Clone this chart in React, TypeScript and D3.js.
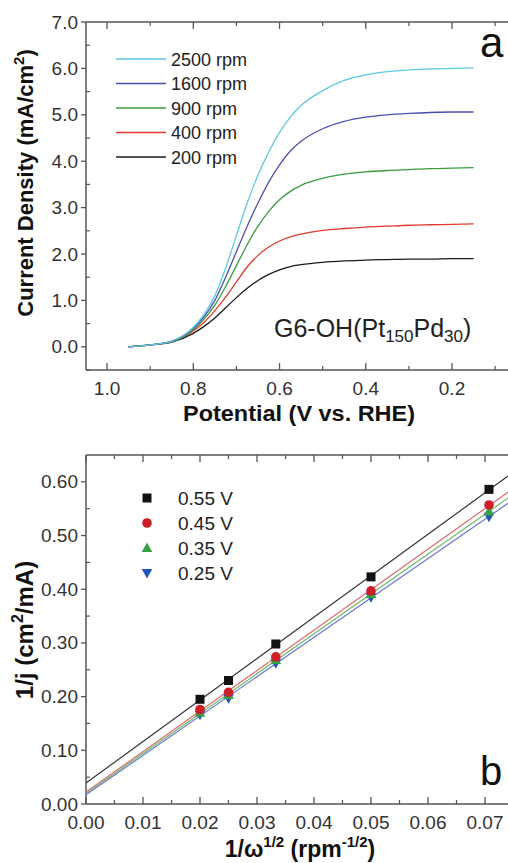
import React from "react";
import * as d3 from "d3";

// ---------- Panel a data ----------
const potentials = [0.95, 0.9, 0.85, 0.8, 0.775, 0.75, 0.725, 0.7, 0.675, 0.65, 0.625, 0.6, 0.575, 0.55, 0.5, 0.45, 0.4, 0.35, 0.3, 0.25, 0.2, 0.15];
const rpm2500 = [0.0, 0.04, 0.12, 0.42, 0.7, 1.1, 1.7, 2.4, 3.1, 3.7, 4.2, 4.62, 4.95, 5.2, 5.52, 5.74, 5.86, 5.93, 5.97, 5.99, 6.0, 6.01];
const rpm1600 = [0.0, 0.04, 0.12, 0.4, 0.65, 1.0, 1.5, 2.05, 2.6, 3.1, 3.55, 3.92, 4.22, 4.43, 4.7, 4.86, 4.95, 5.0, 5.03, 5.05, 5.06, 5.06];
const rpm900 = [0.0, 0.04, 0.11, 0.37, 0.6, 0.9, 1.3, 1.75, 2.2, 2.6, 2.92, 3.17, 3.35, 3.48, 3.63, 3.72, 3.77, 3.8, 3.82, 3.84, 3.85, 3.86];
const rpm400 = [0.0, 0.04, 0.11, 0.34, 0.53, 0.78, 1.07, 1.4, 1.72, 1.97, 2.15, 2.28, 2.37, 2.43, 2.51, 2.55, 2.58, 2.6, 2.62, 2.63, 2.64, 2.65];
const rpm200 = [0.0, 0.04, 0.1, 0.29, 0.44, 0.62, 0.84, 1.06, 1.26, 1.43, 1.56, 1.66, 1.73, 1.77, 1.82, 1.85, 1.87, 1.88, 1.89, 1.89, 1.9, 1.9];
const rpmLabels = ["2500 rpm", "1600 rpm", "900 rpm", "400 rpm", "200 rpm"];
const rpmColors = ["#5cc8e4", "#4b4fb4", "#3c9c3c", "#e03a30", "#1a1a1a"];
const aYTicks = [0, 1, 2, 3, 4, 5, 6, 7];
const aXTicks = [1.0, 0.8, 0.6, 0.4, 0.2];

// ---------- Panel b data ----------
const invSqrtW = [0.02, 0.025, 0.0333, 0.05, 0.0707];
const v055 = [0.195, 0.23, 0.298, 0.423, 0.586];
const v045 = [0.176, 0.208, 0.274, 0.397, 0.557];
const v035 = [0.17, 0.203, 0.268, 0.391, 0.545];
const v025 = [0.166, 0.197, 0.262, 0.385, 0.535];
const vLabels = ["0.55 V", "0.45 V", "0.35 V", "0.25 V"];
const vMarkColors = ["#111111", "#cc1f2a", "#38a040", "#2253b8"];
const vLineColors = ["#333333", "#e06a6a", "#6cb86c", "#6a78d8"];
const vShapes = ["square", "circle", "triangle", "triangleDown"];
const bYTicks = [0, 0.1, 0.2, 0.3, 0.4, 0.5, 0.6];
const bXTicks = [0, 0.01, 0.02, 0.03, 0.04, 0.05, 0.06, 0.07];

const FONT = "'Liberation Sans', Arial, Helvetica, sans-serif";
const AX = "#555555";

function fit(xs: number[], ys: number[]) {
  const mx = d3.mean(xs)!;
  const my = d3.mean(ys)!;
  let num = 0, den = 0;
  xs.forEach((x, i) => { num += (x - mx) * (ys[i] - my); den += (x - mx) * (x - mx); });
  const m = num / den;
  return { m, b: my - m * mx };
}

function Marker({ shape, x, y, color }: { shape: string; x: number; y: number; color: string }) {
  const s = 4.5;
  if (shape === "square") return <rect x={x - s} y={y - s} width={2 * s} height={2 * s} fill={color} />;
  if (shape === "circle") return <circle cx={x} cy={y} r={s + 0.3} fill={color} />;
  if (shape === "triangle")
    return <path d={`M${x},${y - s - 1} L${x + s + 0.8},${y + s - 0.5} L${x - s - 0.8},${y + s - 0.5} Z`} fill={color} />;
  return <path d={`M${x},${y + s + 1} L${x + s + 0.8},${y - s + 0.5} L${x - s - 0.8},${y - s + 0.5} Z`} fill={color} />;
}

export default function App() {
  const ax = d3.scaleLinear().domain([1.05, 0.05]).range([85.5, 516.7]);
  const ay = d3.scaleLinear().domain([-0.5, 7.0]).range([370, 22]);
  const aSeries = [rpm2500, rpm1600, rpm900, rpm400, rpm200];
  const line = d3
    .line<number>()
    .x((_, i) => ax(potentials[i]))
    .y((d) => ay(d))
    .curve(d3.curveMonotoneX);
  const aMinorY = d3.range(-0.5, 7.01, 0.5).filter((v) => Math.abs(v - Math.round(v)) > 0.01);
  const aMinorX = [0.9, 0.7, 0.5, 0.3, 0.1];

  const bx = d3.scaleLinear().domain([0, 0.075]).range([86, 513.5]);
  const by = d3.scaleLinear().domain([0, 0.65]).range([804, 455]);
  const bSeries = [v055, v045, v035, v025];
  const bMinorY = [0.05, 0.15, 0.25, 0.35, 0.45, 0.55];
  const bMinorX = [0.005, 0.015, 0.025, 0.035, 0.045, 0.055, 0.065];

  return (
    <svg
      width={508}
      height={863}
      style={{ position: "absolute", left: 0, top: 0, background: "#fff" }}
      fontFamily={FONT}
    >
      <defs>
        <clipPath id="clipA">
          <rect x={86} y={22} width={430} height={348} />
        </clipPath>
        <clipPath id="clipB">
          <rect x={86} y={455} width={430} height={349} />
        </clipPath>
      </defs>

      {/* ===== Panel a ===== */}
      <g>
        <line x1={86} x2={520} y1={22} y2={22} stroke={AX} strokeWidth={1.5} />
        <line x1={86} x2={520} y1={370} y2={370} stroke={AX} strokeWidth={1.5} />
        <line x1={86} x2={86} y1={22} y2={370} stroke={AX} strokeWidth={1.5} />
        {aYTicks.map((t) => (
          <g key={"ay" + t}>
            <line x1={81} x2={86} y1={ay(t)} y2={ay(t)} stroke={AX} strokeWidth={1.3} />
            <text x={78} y={ay(t) + 6.5} fontSize={19} textAnchor="end" fill="#333">
              {t.toFixed(1)}
            </text>
          </g>
        ))}
        {aMinorY.map((t) => (
          <line key={"amy" + t} x1={86} x2={90} y1={ay(t)} y2={ay(t)} stroke={AX} strokeWidth={1.2} />
        ))}
        {aXTicks.map((t) => (
          <g key={"ax" + t}>
            <line x1={ax(t)} x2={ax(t)} y1={370} y2={363} stroke={AX} strokeWidth={1.3} />
            <line x1={ax(t)} x2={ax(t)} y1={22} y2={29} stroke={AX} strokeWidth={1.3} />
            <text x={ax(t)} y={395} fontSize={19} textAnchor="middle" fill="#333">
              {t.toFixed(1)}
            </text>
          </g>
        ))}
        {aMinorX.map((t) => (
          <g key={"amx" + t}>
            <line x1={ax(t)} x2={ax(t)} y1={370} y2={366} stroke={AX} strokeWidth={1.2} />
            <line x1={ax(t)} x2={ax(t)} y1={22} y2={26} stroke={AX} strokeWidth={1.2} />
          </g>
        ))}
        <g clipPath="url(#clipA)">
          {aSeries
            .map((s, i) => ({ s, i }))
            .reverse()
            .map(({ s, i }) => (
              <path key={"c" + i} d={line(s) || ""} fill="none" stroke={rpmColors[i]} strokeWidth={1.3} />
            ))}
        </g>
        {rpmLabels.map((lab, i) => {
          const yy = 59 + i * 24.5;
          return (
            <g key={"la" + i}>
              <line x1={116} x2={166} y1={yy} y2={yy} stroke={rpmColors[i]} strokeWidth={1.3} />
              <text x={171} y={yy + 6.5} fontSize={18} fill="#222">
                {lab}
              </text>
            </g>
          );
        })}
        <text x={274} y={337} fontSize={25} fill="#222">
          G6-OH(Pt
          <tspan fontSize={17} dy={5}>150</tspan>
          <tspan dy={-5}>Pd</tspan>
          <tspan fontSize={17} dy={5}>30</tspan>
          <tspan dy={-5}>)</tspan>
        </text>
        <text x={480} y={57} fontSize={42} fill="#111">a</text>
        <text x={299} y={421} fontSize={22} fontWeight="bold" textAnchor="middle" fill="#111" textLength={232} lengthAdjust="spacingAndGlyphs">
          Potential (V vs. RHE)
        </text>
        <text
          transform="translate(33,183) rotate(-90)"
          fontSize={22}
          fontWeight="bold"
          textAnchor="middle"
          fill="#111"
        >
          Current Density (mA/cm
          <tspan fontSize={15} dy={-9}>2</tspan>
          <tspan dy={9}>)</tspan>
        </text>
      </g>

      {/* ===== Panel b ===== */}
      <g>
        <line x1={86} x2={520} y1={455} y2={455} stroke={AX} strokeWidth={1.5} />
        <line x1={86} x2={520} y1={804} y2={804} stroke={AX} strokeWidth={1.5} />
        <line x1={86} x2={86} y1={455} y2={804} stroke={AX} strokeWidth={1.5} />
        {bYTicks.map((t) => (
          <g key={"by" + t}>
            <line x1={81} x2={86} y1={by(t)} y2={by(t)} stroke={AX} strokeWidth={1.3} />
            <text x={78} y={by(t) + 6.5} fontSize={19} textAnchor="end" fill="#333">
              {t.toFixed(2)}
            </text>
          </g>
        ))}
        {bMinorY.map((t) => (
          <line key={"bmy" + t} x1={86} x2={90} y1={by(t)} y2={by(t)} stroke={AX} strokeWidth={1.2} />
        ))}
        {bXTicks.map((t) => (
          <g key={"bx" + t}>
            <line x1={bx(t)} x2={bx(t)} y1={804} y2={797} stroke={AX} strokeWidth={1.3} />
            <line x1={bx(t)} x2={bx(t)} y1={455} y2={462} stroke={AX} strokeWidth={1.3} />
            <text x={bx(t)} y={829} fontSize={19} textAnchor="middle" fill="#333">
              {t.toFixed(2)}
            </text>
          </g>
        ))}
        {bMinorX.map((t) => (
          <g key={"bmx" + t}>
            <line x1={bx(t)} x2={bx(t)} y1={804} y2={800} stroke={AX} strokeWidth={1.2} />
            <line x1={bx(t)} x2={bx(t)} y1={455} y2={459} stroke={AX} strokeWidth={1.2} />
          </g>
        ))}
        <g clipPath="url(#clipB)">
          {bSeries.map((s, i) => {
            const f = fit(invSqrtW, s);
            return (
              <line
                key={"fl" + i}
                x1={bx(0)}
                y1={by(f.b)}
                x2={bx(0.075)}
                y2={by(f.b + f.m * 0.075)}
                stroke={vLineColors[i]}
                strokeWidth={1.2}
              />
            );
          })}
          {bSeries
            .map((s, i) => ({ s, i }))
            .reverse()
            .map(({ s, i }) =>
              s.map((v, j) => (
                <Marker key={"m" + i + "-" + j} shape={vShapes[i]} x={bx(invSqrtW[j])} y={by(v)} color={vMarkColors[i]} />
              ))
            )}
        </g>
        {vLabels.map((lab, i) => {
          const yy = 498 + i * 25;
          return (
            <g key={"lb" + i}>
              <Marker shape={vShapes[i]} x={147} y={yy} color={vMarkColors[i]} />
              <text x={178} y={yy + 6.5} fontSize={19} fill="#222">
                {lab}
              </text>
            </g>
          );
        })}
        <text x={480} y={785} fontSize={40} fill="#111">b</text>
        <text x={300} y={857} fontSize={23} fontWeight="bold" textAnchor="middle" fill="#111">
          1/ω
          <tspan fontSize={15} dy={-10}>1/2</tspan>
          <tspan dy={10}> (rpm</tspan>
          <tspan fontSize={15} dy={-10}>-1/2</tspan>
          <tspan dy={10}>)</tspan>
        </text>
        <text
          transform="translate(33,630) rotate(-90)"
          fontSize={24}
          fontWeight="bold"
          textAnchor="middle"
          fill="#111"
        >
          1/j (cm
          <tspan fontSize={16} dy={-10}>2</tspan>
          <tspan dy={10}>/mA)</tspan>
        </text>
      </g>
    </svg>
  );
}
